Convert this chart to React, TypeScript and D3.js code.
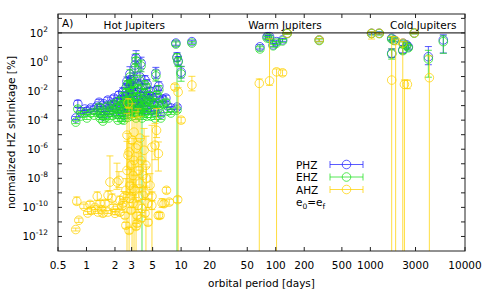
import React from 'react';
import * as d3 from 'd3';

// each point: [orbital period (days), shrinkage (%), error down (dex), error up (dex)]
type Pt = [number, number, number, number];

const phzData: Pt[] = [
  [0.77, 1.4e-4, 0.1, 0.1], [0.81, 1.3e-3, 0.25, 0.25], [0.87, 3.6e-4, 0.1, 0.1], [0.96, 5.8e-4, 0.1, 0.1],
  [1.01, 4.2e-4, 0.1, 0.1], [1.11, 6.8e-4, 0.1, 0.15], [1.2, 4.9e-4, 0.1, 0.1], [1.29, 9.3e-4, 0.15, 0.15],
  [1.36, 1.7e-3, 0.15, 0.2], [1.42, 6.8e-4, 0.1, 0.1], [1.53, 1.3e-3, 0.15, 0.15], [1.61, 4.9e-4, 0.1, 0.1],
  [1.68, 2.4e-3, 0.2, 0.2], [1.77, 9.3e-4, 0.1, 0.1], [1.86, 1.5e-3, 0.15, 0.15], [1.95, 3.3e-3, 0.2, 0.2],
  [2.05, 6.8e-4, 0.1, 0.1], [2.1, 2.0e-3, 0.15, 0.2], [2.2, 5.3e-3, 0.2, 0.25], [2.26, 9.3e-4, 0.1, 0.1],
  [2.31, 2.8e-3, 0.2, 0.2], [2.37, 3.6e-4, 0.1, 0.1], [2.42, 8.5e-3, 0.25, 0.3], [2.48, 1.5e-3, 0.15, 0.15],
  [2.55, 3.9e-3, 0.2, 0.2], [2.61, 0.016, 0.3, 0.3], [2.68, 6.8e-4, 0.1, 0.1], [2.75, 6.2e-3, 0.2, 0.2],
  [2.82, 2.4e-3, 0.2, 0.2], [2.82, 0.035, 0.3, 0.35], [2.88, 0.15, 0.4, 0.5], [2.96, 0.012, 0.25, 0.3],
  [2.96, 1.1e-3, 0.1, 0.15], [3.03, 4.5e-3, 0.2, 0.2], [3.11, 0.022, 0.3, 0.3], [3.18, 0.067, 0.3, 0.4],
  [3.18, 1.7e-3, 0.15, 0.15], [3.26, 0.62, 0.5, 0.7], [3.34, 1.9, 0.4, 0.5], [3.42, 8.5e-3, 0.2, 0.25],
  [3.42, 2.8e-3, 0.2, 0.2], [3.5, 0.03, 0.3, 0.3], [3.58, 1.3e-3, 0.15, 0.15], [3.68, 0.093, 0.35, 0.4],
  [3.68, 5.3e-3, 0.2, 0.2], [3.77, 0.85, 0.4, 0.4], [3.86, 0.016, 0.3, 0.3], [3.96, 2.4e-3, 0.2, 0.2],
  [4.06, 7.3e-3, 0.2, 0.25], [4.15, 7.9e-4, 0.1, 0.1], [4.25, 3.9e-3, 0.2, 0.2], [4.36, 0.03, 0.3, 0.3],
  [4.47, 2.0e-3, 0.15, 0.2], [4.69, 0.01, 0.25, 0.25], [4.92, 3.9e-3, 0.2, 0.2], [5.16, 1.3e-3, 0.15, 0.15],
  [5.41, 0.17, 0.35, 0.4], [5.54, 0.012, 0.25, 0.25], [5.81, 0.022, 0.3, 0.3], [5.98, 2.4e-3, 0.15, 0.2],
  [6.1, 2.6e-4, 0.1, 0.1], [6.4, 2.8e-3, 0.15, 0.2], [6.9, 3.3e-3, 0.2, 0.2], [7.2, 9.3e-4, 0.1, 0.15],
  [7.8, 6.8e-4, 0.1, 0.1], [8.8, 20, 0.15, 0.15], [9.05, 2.2, 0.3, 0.3], [9.3, 1.2, 0.3, 0.3],
  [10, 0.2, 0.4, 0.4], [9.05, 7.9e-4, 0.15, 0.15], [13, 25, 0.1, 0.1],
  [1.39, 3.1e-4, 0.1, 0.1], [1.49, 1.9e-4, 0.1, 0.1], [1.72, 3.1e-4, 0.1, 0.1], [1.9, 4.9e-4, 0.1, 0.1],
  [2.15, 2.6e-4, 0.1, 0.1], [2.31, 5.8e-4, 0.1, 0.1], [2.48, 2.2e-4, 0.1, 0.1], [2.61, 2.0e-3, 0.15, 0.15],
  [2.75, 4.2e-4, 0.1, 0.1], [2.88, 3.3e-3, 0.2, 0.2], [3.03, 4.9e-4, 0.1, 0.1], [3.11, 7.3e-3, 0.2, 0.2],
  [3.26, 9.3e-4, 0.1, 0.1], [3.34, 3.6e-4, 0.1, 0.1], [3.5, 6.8e-4, 0.1, 0.1], [3.77, 1.5e-3, 0.15, 0.15],
  [3.86, 3.6e-4, 0.1, 0.1], [4.06, 1.1e-3, 0.1, 0.15], [4.36, 4.9e-4, 0.1, 0.1], [4.58, 5.3e-3, 0.2, 0.2],
  [4.8, 4.9e-4, 0.1, 0.1], [5.04, 2.8e-3, 0.15, 0.2], [5.3, 3.6e-4, 0.1, 0.1], [5.7, 1.3e-3, 0.15, 0.15],
  [2.68, 0.047, 0.3, 0.3], [2.96, 0.058, 0.3, 0.3], [4.15, 0.058, 0.3, 0.3],
  [68, 11, 0.15, 0.15], [81, 55, 0.1, 0.1], [86, 55, 0.1, 0.1], [94, 15, 0.1, 0.1],
  [102, 25, 0.1, 0.1], [118, 33, 0.1, 0.1], [132, 95, 0.05, 0.05], [288, 33, 0.1, 0.1],
  [1030, 95, 0.1, 0.1], [1240, 95, 0.1, 0.1], [1680, 43, 0.1, 0.1], [1780, 33, 0.1, 0.1],
  [1680, 4.0, 0.3, 0.3], [2230, 19.5, 0.15, 0.15], [2420, 15, 0.15, 0.15], [2520, 11, 0.15, 0.15],
  [2200, 6.8, 0.2, 0.2], [2910, 100, 0.05, 0.05], [4100, 2.3, 0.55, 0.7], [5900, 33, 0.9, 0.35],
];

const ehzData: Pt[] = [
  [0.77, 7.3e-5, 0.1, 0.1], [0.81, 5.8e-4, 0.2, 0.2], [0.87, 1.9e-4, 0.1, 0.1], [0.96, 3.1e-4, 0.1, 0.1],
  [1.01, 1.4e-4, 0.1, 0.1], [1.11, 3.1e-4, 0.1, 0.15], [1.2, 2.2e-4, 0.1, 0.1], [1.29, 4.2e-4, 0.15, 0.15],
  [1.36, 7.9e-4, 0.15, 0.2], [1.42, 2.6e-4, 0.1, 0.1], [1.53, 4.9e-4, 0.15, 0.15], [1.61, 1.6e-4, 0.1, 0.1],
  [1.68, 9.3e-4, 0.2, 0.2], [1.77, 3.6e-4, 0.1, 0.1], [1.86, 5.8e-4, 0.15, 0.15], [1.95, 1.3e-3, 0.2, 0.2],
  [2.05, 2.6e-4, 0.1, 0.1], [2.1, 7.9e-4, 0.15, 0.2], [2.2, 2.0e-3, 0.2, 0.25], [2.26, 3.6e-4, 0.1, 0.1],
  [2.31, 1.1e-3, 0.2, 0.2], [2.37, 1.1e-4, 0.1, 0.1], [2.42, 3.9e-3, 0.25, 0.3], [2.48, 5.8e-4, 0.15, 0.15],
  [2.55, 1.5e-3, 0.2, 0.2], [2.61, 7.3e-3, 0.3, 0.3], [2.68, 2.6e-4, 0.1, 0.1], [2.75, 2.8e-3, 0.2, 0.2],
  [2.82, 9.3e-4, 0.2, 0.2], [2.82, 0.019, 0.3, 0.35], [2.88, 0.093, 0.4, 0.5], [2.96, 5.3e-3, 0.25, 0.3],
  [2.96, 4.2e-4, 0.1, 0.15], [3.03, 1.7e-3, 0.2, 0.2], [3.11, 0.01, 0.3, 0.3], [3.18, 0.035, 0.3, 0.4],
  [3.18, 6.8e-4, 0.15, 0.15], [3.26, 0.39, 0.5, 0.7], [3.34, 1.2, 0.4, 0.5], [3.42, 3.9e-3, 0.2, 0.25],
  [3.42, 1.3e-3, 0.2, 0.2], [3.5, 0.014, 0.3, 0.3], [3.58, 4.9e-4, 0.15, 0.15], [3.68, 0.049, 0.35, 0.4],
  [3.68, 2.4e-3, 0.2, 0.2], [3.77, 0.53, 0.4, 0.4], [3.86, 7.3e-3, 20, 0.3], [3.96, 9.3e-4, 0.2, 0.2],
  [4.06, 3.3e-3, 0.2, 0.25], [4.15, 3.1e-4, 0.1, 0.1], [4.25, 1.7e-3, 0.2, 0.2], [4.36, 0.016, 0.3, 0.3],
  [4.47, 7.9e-4, 0.15, 0.2], [4.69, 4.5e-3, 0.25, 0.25], [4.92, 1.7e-3, 0.2, 0.2], [5.16, 4.9e-4, 0.15, 0.15],
  [5.41, 0.11, 0.35, 0.4], [5.54, 5.3e-3, 0.25, 0.25], [5.81, 0.012, 0.3, 0.3], [5.98, 1.1e-3, 0.15, 0.2],
  [6.1, 1.4e-4, 0.1, 0.1], [6.4, 1.3e-3, 0.15, 0.2], [6.9, 1.7e-3, 0.2, 0.2], [7.2, 4.2e-4, 0.1, 0.15],
  [7.8, 3.1e-4, 0.1, 0.1], [8.8, 17, 0.15, 0.15], [9.05, 1.9, 20, 0.3], [9.3, 1.0, 0.3, 0.3],
  [10, 0.15, 0.5, 0.5], [9.05, 4.9e-4, 0.15, 0.15], [13, 20, 0.1, 0.1],
  [1.39, 1.4e-4, 0.1, 0.1], [1.49, 8.6e-5, 0.1, 0.1], [1.72, 1.4e-4, 0.1, 0.1], [1.9, 2.2e-4, 0.1, 0.1],
  [2.15, 1.0e-4, 0.1, 0.1], [2.31, 2.6e-4, 0.1, 0.1], [2.48, 1.0e-4, 0.1, 0.1], [2.61, 9.3e-4, 0.15, 0.15],
  [2.75, 1.6e-4, 0.1, 0.1], [2.88, 1.5e-3, 0.2, 0.2], [3.03, 1.9e-4, 0.1, 0.1], [3.11, 3.3e-3, 0.2, 0.2],
  [3.26, 3.6e-4, 0.1, 0.1], [3.34, 1.4e-4, 0.1, 0.1], [3.5, 2.6e-4, 0.1, 0.1], [3.77, 6.8e-4, 0.15, 0.15],
  [3.86, 1.4e-4, 0.1, 0.1], [4.06, 4.2e-4, 0.1, 0.15], [4.36, 1.9e-4, 0.1, 0.1], [4.58, 2.4e-3, 0.2, 0.2],
  [4.8, 1.9e-4, 0.1, 0.1], [5.04, 1.3e-3, 0.15, 0.2], [5.3, 1.4e-4, 0.1, 0.1], [5.7, 5.8e-4, 0.15, 0.15],
  [2.68, 0.026, 0.3, 0.3], [2.96, 0.03, 0.3, 0.3], [4.15, 0.026, 0.3, 0.3],
  [68, 7.9, 0.15, 0.15], [81, 45, 0.1, 0.1], [86, 42, 0.1, 0.1], [94, 13, 0.1, 0.1],
  [102, 20, 0.1, 0.1], [118, 28, 0.1, 0.1], [132, 90, 0.05, 0.05], [288, 30, 0.1, 0.1],
  [1030, 90, 0.1, 0.1], [1240, 90, 0.1, 0.1], [1680, 38, 0.1, 0.1], [1780, 30, 0.1, 0.1],
  [1680, 3.5, 0.35, 0.35], [2230, 17, 0.15, 0.15], [2420, 13, 0.15, 0.15], [2520, 9.5, 0.15, 0.15],
  [2200, 6, 0.2, 0.2], [2910, 95, 0.05, 0.05], [4100, 1.6, 1.25, 0.6], [5900, 25, 0.8, 0.4],
];

const ahzData: Pt[] = [
  [0.79, 2.6e-10, 0.2, 0.3], [0.83, 1.3e-11, 0.15, 0.15], [0.77, 3.0e-12, 0.1, 0.1], [0.94, 1.2e-10, 0.15, 0.15],
  [1.03, 4.1e-11, 0.1, 0.1], [1.23, 1.0e-10, 0.15, 0.15], [1.3, 5.8e-10, 0.3, 0.3], [1.32, 4.8e-11, 0.1, 0.15],
  [1.45, 6.9e-11, 0.15, 0.15], [1.57, 1.9e-10, 0.2, 0.2], [1.69, 6.8e-10, 0.3, 0.3], [1.77, 5.5e-9, 0.6, 1.8],
  [1.69, 4.8e-11, 0.1, 0.1], [1.92, 1.0e-10, 0.15, 0.2], [2.0, 3.9e-11, 0.1, 0.1], [2.1, 5.5e-9, 0.5, 1.3],
  [2.2, 7.2e-9, 0.5, 0.6], [2.0, 6.2e-11, 0.1, 0.1], [1.86, 4.2e-10, 0.2, 0.3], [2.26, 3.0e-10, 0.3, 0.3],
  [2.37, 1.2e-10, 0.2, 0.2], [2.48, 4.9e-10, 0.3, 0.4], [2.55, 2.8e-11, 0.2, 0.2], [2.61, 1.5e-9, 0.5, 0.8],
  [2.68, 3.5e-8, 1.5, 2.0], [2.75, 3.9e-7, 1.0, 1.5], [2.82, 6.5e-7, 20, 3], [2.88, 3.3e-9, 0.6, 1.2],
  [2.96, 7.9e-8, 1.2, 1.5], [2.96, 6.2e-11, 0.2, 0.2], [3.03, 4.2e-6, 20, 2.5], [3.11, 1.6e-8, 0.8, 1.0],
  [3.11, 1.9e-10, 0.3, 0.3], [3.18, 1.7e-7, 1.0, 1.5], [3.26, 1.5e-9, 0.5, 1.0], [3.34, 1.2e-6, 20, 2.5],
  [3.42, 2.8e-11, 0.2, 0.2], [3.42, 7.9e-12, 0.2, 0.2], [3.5, 1.9e-6, 1.5, 2.5], [3.58, 3.5e-8, 1.0, 1.2],
  [3.58, 5.8e-10, 0.4, 0.6], [3.68, 4.6e-9, 0.6, 0.9], [3.77, 1.7e-7, 1.2, 1.5], [3.86, 8.5e-11, 0.3, 0.3],
  [3.96, 1.6e-8, 0.8, 1.0], [4.06, 8.5e-7, 1.0, 1.5], [4.15, 9.3e-10, 0.4, 0.5], [4.25, 7.9e-8, 20, 2.0],
  [4.3, 9.5e-9, 0.6, 0.8], [4.47, 1.9e-10, 0.3, 0.3], [4.69, 3.3e-9, 0.6, 0.8], [4.92, 1.4e-6, 20, 1.5],
  [4.9, 1.4e-10, 0.3, 0.3], [5.3, 1.9e-6, 1.0, 1.5], [5.5, 2.0e-5, 0.5, 1.5], [5.75, 5.0e-7, 1.2, 0.8],
  [5.75, 2.8e-11, 0.2, 0.2], [6.3, 2.0e-10, 0.3, 0.3], [6.6, 1.8e-10, 0.2, 0.2], [7.0, 1.5e-9, 0.2, 0.2],
  [7.5, 2.3e-10, 0.2, 0.2], [9.2, 3.4e-10, 0.2, 0.2], [5.98, 2.8e-11, 0.2, 0.2], [2.75, 1.5e-3, 0.3, 0.3],
  [8.6, 0.019, 0.2, 0.2], [9.3, 8.5e-3, 20, 0.3], [10, 1e-4, 0.2, 0.2], [13, 0.026, 0.4, 0.6],
  [2.61, 5.8e-12, 0.2, 0.2], [2.82, 2.6e-12, 0.2, 0.2], [3.34, 4.9e-12, 0.2, 0.2], [3.77, 1.7e-11, 0.2, 0.2],
  [4.47, 9.3e-12, 0.2, 0.2], [4.92, 5.8e-10, 0.3, 0.3], [2.68, 9.3e-6, 20, 1.5], [3.18, 1.5e-5, 20, 1.0],
  [3.68, 5.8e-6, 1.5, 1.5], [2.88, 4.2e-10, 0.3, 0.4], [3.11, 2.0e-9, 0.5, 0.6], [3.5, 1.4e-10, 0.3, 0.3],
  [3.96, 6.8e-10, 0.3, 0.5], [4.15, 3.9e-11, 0.2, 0.2], [2.26, 4.6e-11, 0.2, 0.2], [2.42, 1.9e-10, 0.2, 0.3],
  [1.39, 1.9e-10, 0.2, 0.2], [1.49, 3.9e-11, 0.2, 0.2], [1.13, 6.2e-11, 0.2, 0.2], [1.09, 1.6e-10, 0.2, 0.2],
  [67, 0.034, 20, 0.3], [86, 0.05, 0.3, 2.9], [102, 0.21, 20, 0.2], [118, 0.18, 0.2, 0.2],
  [132, 95, 0.05, 0.05], [288, 33, 0.1, 0.1],
  [1030, 95, 0.4, 0.1], [1240, 95, 0.05, 0.05], [1680, 0.057, 20, 3.0], [1850, 30, 20, 0.1],
  [2200, 20, 20, 0.1], [2290, 0.029, 20, 0.3], [2460, 0.029, 0.3, 0.3], [2910, 100, 0.05, 0.05],
  [4200, 0.083, 20, 1.5],
];

const xTickValues = [0.5, 1, 2, 3, 5, 10, 20, 50, 100, 200, 500, 1000, 3000, 10000];
const yLabelExps = [-12, -10, -8, -6, -4, -2, 0, 2];
const yTickExps = [-12, -11, -10, -9, -8, -7, -6, -5, -4, -3, -2, -1, 0, 1, 2, 3];
const groupNames = ['Hot Jupiters', 'Warm Jupiters', 'Cold Jupiters'];
const groupCenters = [3.2, 125, 3620];

const series = [
  { name: 'PHZ', data: phzData, color: '#2424ff' },
  { name: 'EHZ', data: ehzData, color: '#1ee01e' },
  { name: 'AHZ', data: ahzData, color: '#ffd200' },
];

const width = 485;
const height = 291;
const margin = { top: 14, right: 20, bottom: 40, left: 58 };
const font = 'DejaVu Sans, sans-serif';

export default function App() {
  const x = d3.scaleLog().domain([0.5, 10000]).range([margin.left, width - margin.right]);
  const y = d3.scaleLog().domain([1e-13, 2e3]).range([height - margin.bottom, margin.top]);
  const [x0, x1] = x.range();
  const [yb, yt] = y.range();
  const cap = 3.5;
  const r = 4.3;

  const legendX = 296;
  const legendY = 164.5;
  const legendStep = 12.5;

  return (
    <svg width={width} height={height} style={{ position: 'absolute', left: 0, top: 0, background: '#fff' }}
      fontFamily={font} fontSize={10.5}>
      <defs>
        <clipPath id="plot-area">
          <rect x={x0} y={yt} width={x1 - x0} height={yb - yt} />
        </clipPath>
      </defs>

      <g clipPath="url(#plot-area)">
        {series.map((s) => (
          <g key={s.name}>
            {s.data.map((d, i) => {
              const px = x(d[0]);
              const lo = y(d[1] / Math.pow(10, d[2]));
              const hi = y(d[1] * Math.pow(10, d[3]));
              return (
                <g key={i} stroke={s.color} strokeOpacity={0.75} fill="none" strokeWidth={1}>
                  <line x1={px} x2={px} y1={lo} y2={hi} />
                  <line x1={px - cap} x2={px + cap} y1={lo} y2={lo} />
                  <line x1={px - cap} x2={px + cap} y1={hi} y2={hi} />
                  <circle cx={px} cy={y(d[1])} r={r} />
                </g>
              );
            })}
          </g>
        ))}
      </g>

      {/* separator at 100 % with the group labels above */}
      <line x1={x0} x2={x1} y1={y(100)} y2={y(100)} stroke="#000" strokeWidth={1} />
      <text x={62} y={26.5} fill="#000">A)</text>
      {groupNames.map((g, i) => (
        <text key={g} x={x(groupCenters[i])} y={29} textAnchor="middle" fill="#000">{g}</text>
      ))}

      {/* frame and ticks */}
      <rect x={x0} y={yt} width={x1 - x0} height={yb - yt} fill="none" stroke="#222" strokeWidth={1} />
      {xTickValues.map((t) => (
        <g key={t} stroke="#222">
          <line x1={x(t)} x2={x(t)} y1={yb} y2={yb - 4} />
          <line x1={x(t)} x2={x(t)} y1={yt} y2={yt + 4} />
        </g>
      ))}
      {xTickValues.map((t) => (
        <text key={t} x={x(t)} y={268.5} textAnchor="middle" fill="#000">{String(t)}</text>
      ))}
      {yTickExps.map((e) => (
        <g key={e} stroke="#222">
          <line x1={x0} x2={x0 + 4} y1={y(Math.pow(10, e))} y2={y(Math.pow(10, e))} />
          <line x1={x1} x2={x1 - 4} y1={y(Math.pow(10, e))} y2={y(Math.pow(10, e))} />
        </g>
      ))}
      {yLabelExps.map((e) => (
        <text key={e} x={48} y={y(Math.pow(10, e)) + 4} textAnchor="end" fill="#000">
          10<tspan dy={-5} fontSize={7.5}>{e}</tspan>
        </text>
      ))}

      <text x={(x0 + x1) / 2} y={287} textAnchor="middle" fill="#000">orbital period [days]</text>
      <text transform={`translate(15,${(yt + yb) / 2}) rotate(-90)`} textAnchor="middle" fill="#000">
        normalized HZ shrinkage [%]
      </text>

      {/* legend */}
      {series.map((s, i) => {
        const ly = legendY + i * legendStep;
        return (
          <g key={s.name}>
            <text x={legendX} y={ly + 4} fill="#000">{s.name}</text>
            <g stroke={s.color} strokeOpacity={0.75} fill="none">
              <line x1={330} x2={363} y1={ly} y2={ly} />
              <line x1={330} x2={330} y1={ly - cap} y2={ly + cap} />
              <line x1={363} x2={363} y1={ly - cap} y2={ly + cap} />
              <circle cx={346.5} cy={ly} r={r} />
            </g>
          </g>
        );
      })}
      <text x={legendX} y={legendY + 3 * legendStep + 4} fill="#000">
        e<tspan dy={2.5} fontSize={7.5}>0</tspan><tspan dy={-2.5}>=e</tspan><tspan dy={2.5} fontSize={7.5}>f</tspan>
      </text>
    </svg>
  );
}
